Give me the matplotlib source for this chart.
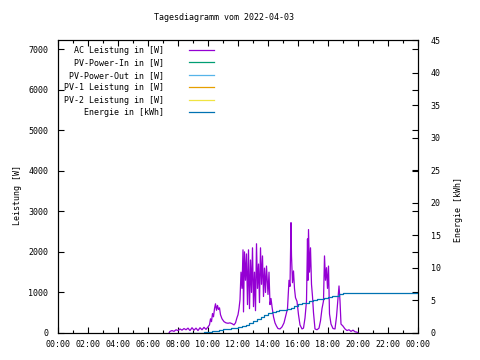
import numpy as np
import matplotlib
matplotlib.use('Agg')
import matplotlib.pyplot as plt
from matplotlib.ticker import MultipleLocator


plt.rcParams.update({'font.family': 'DejaVu Sans Mono', 'font.size': 6})

TITLE = 'Tagesdiagramm vom 2022-04-03'

# AC Leistung in [W]
ac_times = ['07:24', '07:28', '07:36', '07:44', '07:52', '08:00', '08:08', '08:16', '08:24', '08:32',
            '08:40', '08:48', '08:56', '09:04', '09:12', '09:20', '09:28', '09:36', '09:44', '09:52',
            '10:00', '10:06', '10:10', '10:14', '10:18', '10:22', '10:26', '10:30', '10:34', '10:38',
            '10:42', '10:46', '10:50', '10:56', '11:04', '11:12', '11:20', '11:28', '11:36', '11:44',
            '11:50', '11:56', '12:00', '12:04', '12:08', '12:12', '12:16', '12:20', '12:22', '12:26',
            '12:30', '12:34', '12:38', '12:42', '12:46', '12:50', '12:54', '12:58', '13:02', '13:06',
            '13:10', '13:14', '13:18', '13:22', '13:26', '13:30', '13:34', '13:38', '13:42', '13:46',
            '13:50', '13:54', '14:00', '14:04', '14:08', '14:12', '14:16', '14:22', '14:28', '14:34',
            '14:40', '14:48', '14:56', '15:04', '15:12', '15:18', '15:24', '15:28', '15:32', '15:34',
            '15:38', '15:42', '15:46', '15:50', '15:56', '16:02', '16:08', '16:16', '16:22', '16:28',
            '16:34', '16:38', '16:40', '16:42', '16:46', '16:50', '16:54', '16:58', '17:02', '17:08',
            '17:16', '17:24', '17:30', '17:36', '17:42', '17:46', '17:50', '17:54', '17:58', '18:02',
            '18:06', '18:12', '18:20', '18:28', '18:34', '18:40', '18:44', '18:48', '18:52', '19:00',
            '19:08', '19:16', '19:24', '19:32', '19:40', '19:48', '19:56', '20:00']
ac_power = [0, 40, 60, 40, 80, 60, 100, 70, 110, 80,
            120, 60, 130, 70, 120, 60, 130, 80, 140, 90,
            150, 200, 350, 280, 480, 400, 600, 720, 560, 680,
            580, 620, 450, 350, 280, 250, 240, 250, 230, 200,
            250, 380, 450, 600, 820, 1500, 1100, 2050, 520, 2000,
            1300, 1950, 700, 2050, 600, 1800, 1000, 2100, 650, 1500,
            550, 2200, 1100, 1700, 750, 2100, 1200, 1900, 900, 1600,
            1000, 1650, 950, 1500, 700, 850, 650, 400, 250, 170,
            110, 100, 150, 250, 450, 600, 1300, 1150, 2720, 1900,
            1240, 1530, 1090, 870, 780, 450, 200, 100, 120, 370,
            790, 2320, 1300, 2550, 1500, 2100, 1200, 900, 500, 100,
            80, 120, 300, 600, 790, 1900, 1300, 1610, 1100, 1650,
            470, 220, 110, 100, 400, 840, 1160, 790, 220, 170,
            100, 60, 80, 40, 70, 30, 20, 0]

# Energie in [kWh]
en_times = ['08:40', '09:00', '09:15', '09:30', '09:45', '10:00', '10:15', '10:30', '10:45', '11:00',
            '11:15', '11:30', '11:45', '12:00', '12:15', '12:30', '12:45', '13:00', '13:15', '13:30',
            '13:45', '14:00', '14:15', '14:30', '14:45', '15:00', '15:15', '15:30', '15:45', '16:00',
            '16:15', '16:30', '16:45', '17:00', '17:15', '17:30', '17:45', '18:00', '18:15', '18:30',
            '18:45', '19:00', '19:30', '20:00', '24:00']
energy = [0, 0.02, 0.04, 0.06, 0.1, 0.15, 0.25, 0.35, 0.5, 0.6,
          0.65, 0.72, 0.8, 0.9, 1.0, 1.2, 1.5, 1.8, 2.1, 2.4,
          2.7, 3.0, 3.25, 3.4, 3.5, 3.55, 3.65, 3.8, 4.2, 4.5,
          4.55, 4.6, 4.9, 5.1, 5.15, 5.2, 5.4, 5.6, 5.65, 5.7,
          6.0, 6.1, 6.15, 6.2, 6.2]

labels = ['AC Leistung in [W]', 'PV-Power-In in [W]', 'PV-Power-Out in [W]',
          'PV-1 Leistung in [W]', 'PV-2 Leistung in [W]', 'Energie in [kWh]']
colors = ['#9400d3', '#009e73', '#56b4e9', '#e69f00', '#f0e442', '#0072b2']

x_ticks = list(range(0, 25, 2))
x_ticklabels = ['%02d:00' % (h % 24) for h in x_ticks]


def to_hours(times):
	return np.array([int(t[:2]) + int(t[3:]) / 60 for t in times])


fig = plt.figure(figsize=(4.8, 3.6), dpi=100)
ax = fig.add_axes([58 / 480, 1 - 333 / 360, 360 / 480, 293 / 360])
ax2 = ax.twinx()

lw = 0.9
handles = []
handles += ax.plot(to_hours(ac_times), ac_power, color=colors[0], lw=lw)
for c in colors[1:5]:
	handles += ax.plot([], [], color=c, lw=lw)
handles += ax2.plot(to_hours(en_times), energy, color=colors[5], lw=lw, drawstyle='steps-post')

ax.set_xlim(0, 24)
ax.set_ylim(0, 7223)
ax2.set_ylim(0, 45)

ax.set_xticks(x_ticks)
ax.set_xticklabels(x_ticklabels)
ax.xaxis.set_minor_locator(MultipleLocator(1))
ax.yaxis.set_major_locator(MultipleLocator(1000))
ax2.yaxis.set_major_locator(MultipleLocator(5))

ax.tick_params(which='both', direction='in', top=True, right=True, width=0.8)
ax.tick_params(which='major', length=4)
ax.tick_params(which='minor', length=2)
ax.tick_params(axis='x', pad=5)
ax.tick_params(axis='y', pad=7)
ax2.tick_params(direction='in', length=4, width=0.8, pad=9)

for a in (ax, ax2):
	for s in a.spines.values():
		s.set_linewidth(0.8)

ax.set_ylabel('Leistung [W]')
ax.yaxis.set_label_coords(-0.1, 0.47)
ax2.set_ylabel('Energie [kWh]')
ax2.yaxis.set_label_coords(1.1, 0.42)

fig.text(224 / 480, 1 - 18 / 360, TITLE, ha='center', va='center')

width = max(len(l) for l in labels)
leg = ax.legend(handles, [l.rjust(width) for l in labels], loc='upper left',
                bbox_to_anchor=(0.005, 0.995), markerfirst=False, frameon=False,
                handlelength=3.0, handletextpad=3.0, labelspacing=0.42,
                borderaxespad=0.3, borderpad=0.2)

fig.savefig('out.png', dpi=100)
